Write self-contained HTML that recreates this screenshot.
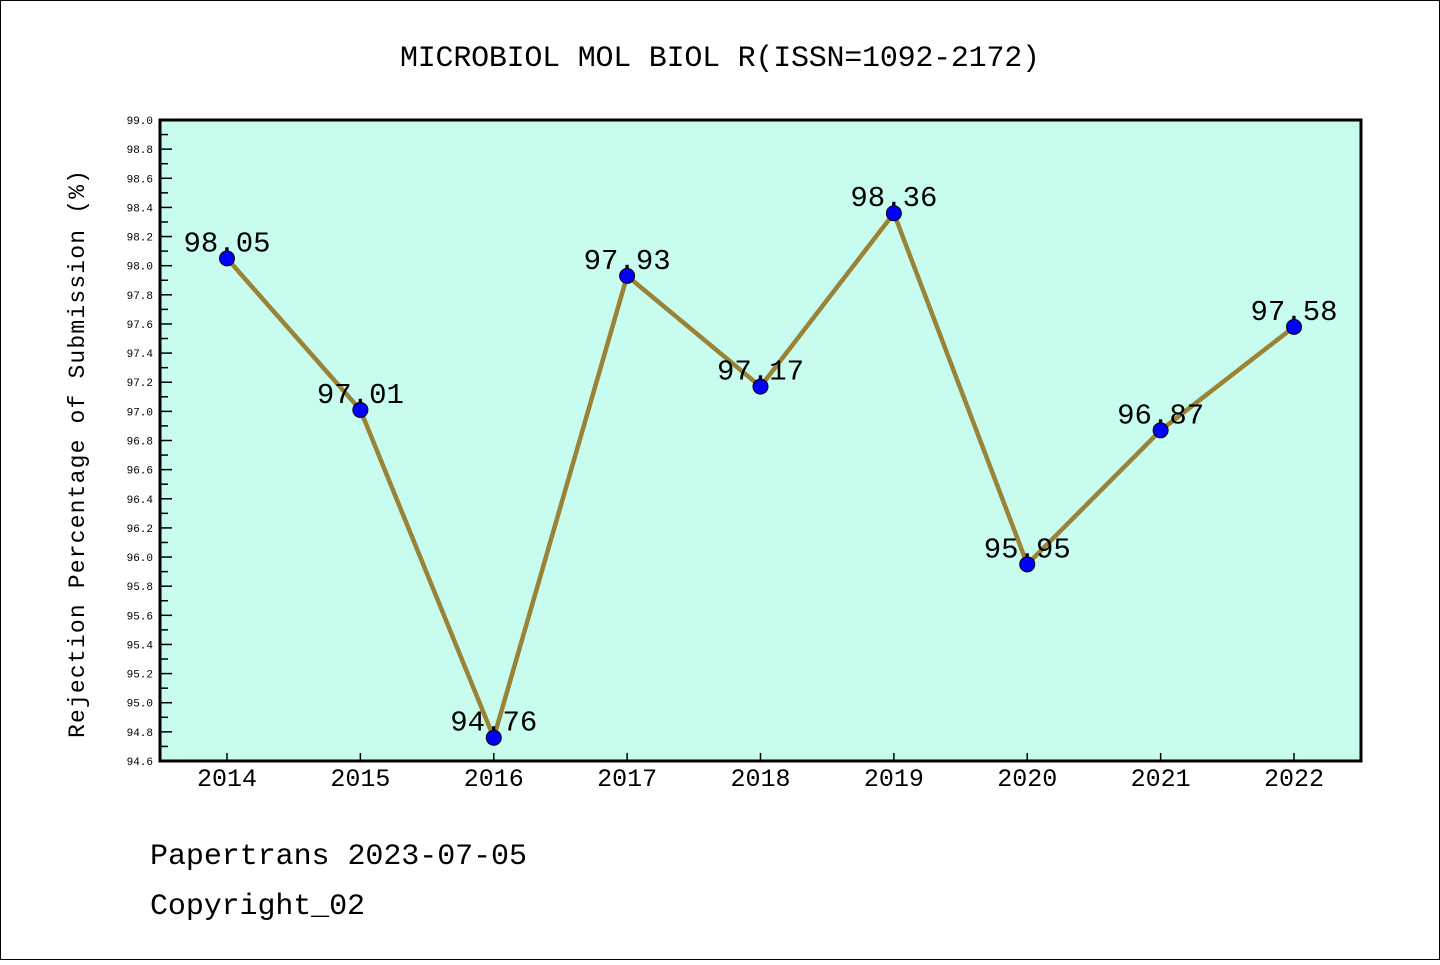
<!DOCTYPE html>
<html><head><meta charset="utf-8"><style>
body{margin:0;background:#fff;width:1440px;height:960px;overflow:hidden}
text{font-family:"Liberation Mono","DejaVu Sans Mono",monospace}
</style></head><body>
<svg id="c" width="1440" height="960">
<rect x="0.5" y="0.5" width="1439" height="959" fill="#fff" stroke="#000"/>
<text x="720" y="66" font-size="30" text-anchor="middle" textLength="640">MICROBIOL MOL BIOL R(ISSN=1092-2172)</text>
<rect x="160" y="120" width="1201" height="641" fill="#c7fcee"/>
<g id="ax"></g>
<rect x="160" y="120" width="1201" height="641" fill="none" stroke="#000" stroke-width="3"/>
<text transform="translate(84,454) rotate(-90)" font-size="23" text-anchor="middle" textLength="568">Rejection Percentage of Submission (%)</text>
<text x="150" y="864" font-size="30" textLength="377">Papertrans 2023-07-05</text>
<text x="150" y="914" font-size="30" textLength="215">Copyright_02</text>
</svg>
<script>
const years=[2014,2015,2016,2017,2018,2019,2020,2021,2022];
const values=[98.05,97.01,94.76,97.93,97.17,98.36,95.95,96.87,97.58];
const yTicks=[94.6,94.8,95.0,95.2,95.4,95.6,95.8,96.0,96.2,96.4,96.6,96.8,97.0,97.2,97.4,97.6,97.8,98.0,98.2,98.4,98.6,98.8,99.0];
const NS='http://www.w3.org/2000/svg';
const g=document.getElementById('ax');
const X=i=>227+i*(1294-227)/(years.length-1);
const Y=v=>761-(v-94.6)/(99.0-94.6)*641;
function mk(t,a){const e=document.createElementNS(NS,t);for(const k in a)e.setAttribute(k,a[k]);g.appendChild(e);return e;}
yTicks.forEach(v=>{
 const l=mk('line',{x1:160,x2:172,y1:Y(v),y2:Y(v),stroke:'#000','stroke-width':1.5});
 
 
 const m=mk('line',{x1:160,x2:168,y1:Y(v+0.1),y2:Y(v+0.1),stroke:'#000','stroke-width':1.5});
 if(v>=99)m.remove();
 
 
 const t=mk('text',{x:153,y:Y(v)+4,'font-size':11,'text-anchor':'end','font-family':'Liberation Sans, sans-serif'});
 t.textContent=v.toFixed(1);
 
 
});
years.forEach((yr,i)=>{
 const l=mk('line',{x1:X(i),x2:X(i),y1:761,y2:753,stroke:'#000','stroke-width':1.5});
 
 
 const t=mk('text',{x:X(i),y:786,'font-size':25,'text-anchor':'middle','font-family':'Liberation Sans, sans-serif'});
 t.textContent=yr;
 
 
});
const p=mk('polyline',{points:values.map((v,i)=>X(i)+','+Y(v)).join(' '),fill:'none',stroke:'#9a8236','stroke-width':4.5});


values.forEach((v,i)=>{
 const c=mk('circle',{cx:X(i),cy:Y(v),r:7.5,fill:'#0000ff',stroke:'#000','stroke-width':1});
 
 
 const t=mk('text',{x:X(i),y:Y(v)-7,'font-size':29,'text-anchor':'middle','font-family':'Liberation Sans, sans-serif'});
 t.textContent=v.toFixed(2);
 
 
});
</script>
</body></html>
